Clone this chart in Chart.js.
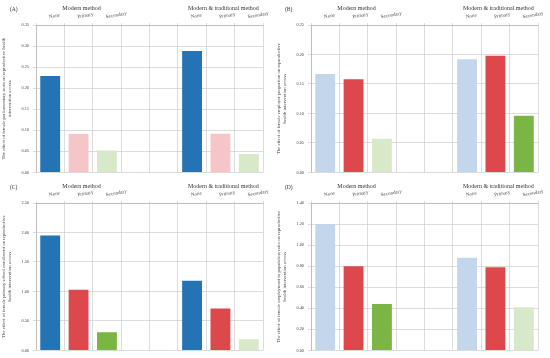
<!DOCTYPE html>
<html>
<head>
<meta charset="utf-8">
<script src="https://cdn.jsdelivr.net/npm/chart.js@4/dist/chart.umd.min.js"></script>
<style>
  body { margin: 0; background: #fff; }
  .panel { position: absolute; width: 275px; height: 179px; }
  .tag { position: absolute; left: 10px; top: 6px; font: 5.5px "Liberation Serif", serif; color: #333; }
</style>
</head>
<body>
<div class="panel" style="left:0;top:0"><span class="tag">(A)</span><canvas id="chartA" width="275" height="179"></canvas></div>
<div class="panel" style="left:275px;top:0"><span class="tag">(B)</span><canvas id="chartB" width="275" height="179"></canvas></div>
<div class="panel" style="left:0;top:178px"><span class="tag">(C)</span><canvas id="chartC" width="275" height="179"></canvas></div>
<div class="panel" style="left:275px;top:178px"><span class="tag">(D)</span><canvas id="chartD" width="275" height="179"></canvas></div>
<script>
const categories = ["None", "Primary", "Secondary", "", "", "None", "Primary", "Secondary"];
const groups = ["Modern method", "Modern & traditional method"];
const groupSlots = [1, 6];

const valuesA = [0.229, 0.091, 0.052, null, null, 0.288, 0.092, 0.044];
const valuesB = [0.167, 0.158, 0.057, null, null, 0.192, 0.198, 0.096];
const valuesC = [1.95, 1.03, 0.31, null, null, 1.18, 0.71, 0.19];
const valuesD = [1.20, 0.80, 0.44, null, null, 0.88, 0.79, 0.41];

const titleA = ["The effect of female parliamentary seats on reproductive health", "intervention access"];
const titleB = ["The effect of female employer proportion on reproductive", "health intervention access"];
const titleC = ["The effect of female primary school enrollment on reproductive", "health intervention access"];
const titleD = ["The effect of female employment to population ratio on reproductive", "health intervention access"];

const BLUE = "#2474b5", LBLUE = "#c3d6eb", RED = "#dc484b", PINK = "#f6c5c7",
      GREEN = "#7ab545", LGREEN = "#d8e9c9";

const colorsA = [BLUE, PINK, LGREEN, null, null, BLUE, PINK, LGREEN];
const colorsB = [LBLUE, RED, LGREEN, null, null, LBLUE, RED, GREEN];
const colorsC = [BLUE, RED, GREEN, null, null, BLUE, RED, LGREEN];
const colorsD = [LBLUE, RED, GREEN, null, null, LBLUE, RED, LGREEN];

Chart.defaults.font.family = "'Liberation Serif', serif";
Chart.defaults.color = "#444";

const groupHeaders = {
  id: "groupHeaders",
  afterDraw(chart) {
    const ctx = chart.ctx;
    const x = chart.scales.x;
    ctx.save();
    ctx.font = "6px 'Liberation Serif', serif";
    ctx.fillStyle = "#333";
    ctx.textAlign = "center";
    ctx.textBaseline = "middle";
    groups.forEach((g, i) => {
      ctx.fillText(g, x.getPixelForValue(groupSlots[i]) + 3, 8);
    });
    ctx.restore();
  }
};

function makeChart(id, values, colors, title, max, step) {
  return new Chart(document.getElementById(id), {
    type: "bar",
    data: {
      labels: categories,
      datasets: [{
        data: values,
        backgroundColor: colors,
        categoryPercentage: 1,
        barPercentage: 0.7
      }]
    },
    options: {
      responsive: false,
      animation: false,
      layout: { padding: { top: 0, right: 12, bottom: 5, left: 0 } },
      plugins: { legend: { display: false }, tooltip: { enabled: false } },
      scales: {
        x: {
          position: "top",
          afterFit(scale) { scale.height = 25; },
          grid: { color: "#c4c4c4", lineWidth: 0.6, borderDash: [1.5, 1.5], tickLength: 2 },
          border: { color: "#aaa", width: 0.6 },
          ticks: { font: { size: 5 }, minRotation: 10, maxRotation: 10, autoSkip: false, padding: 3 }
        },
        y: {
          min: 0,
          max: max,
          afterFit(scale) { scale.width = 36; },
          grid: { color: "#c4c4c4", lineWidth: 0.6, tickLength: 3 },
          border: { color: "#aaa", width: 0.6 },
          ticks: {
            stepSize: step,
            font: { size: 4.3 },
            padding: 4,
            callback: (v) => v.toFixed(2)
          },
          title: { display: true, text: title, font: { size: 4.8 }, color: "#444", padding: 1 }
        }
      }
    },
    plugins: [groupHeaders]
  });
}

makeChart("chartA", valuesA, colorsA, titleA, 0.35, 0.05);
makeChart("chartB", valuesB, colorsB, titleB, 0.25, 0.05);
makeChart("chartC", valuesC, colorsC, titleC, 2.5, 0.5);
makeChart("chartD", valuesD, colorsD, titleD, 1.4, 0.2);
</script>
</body>
</html>
